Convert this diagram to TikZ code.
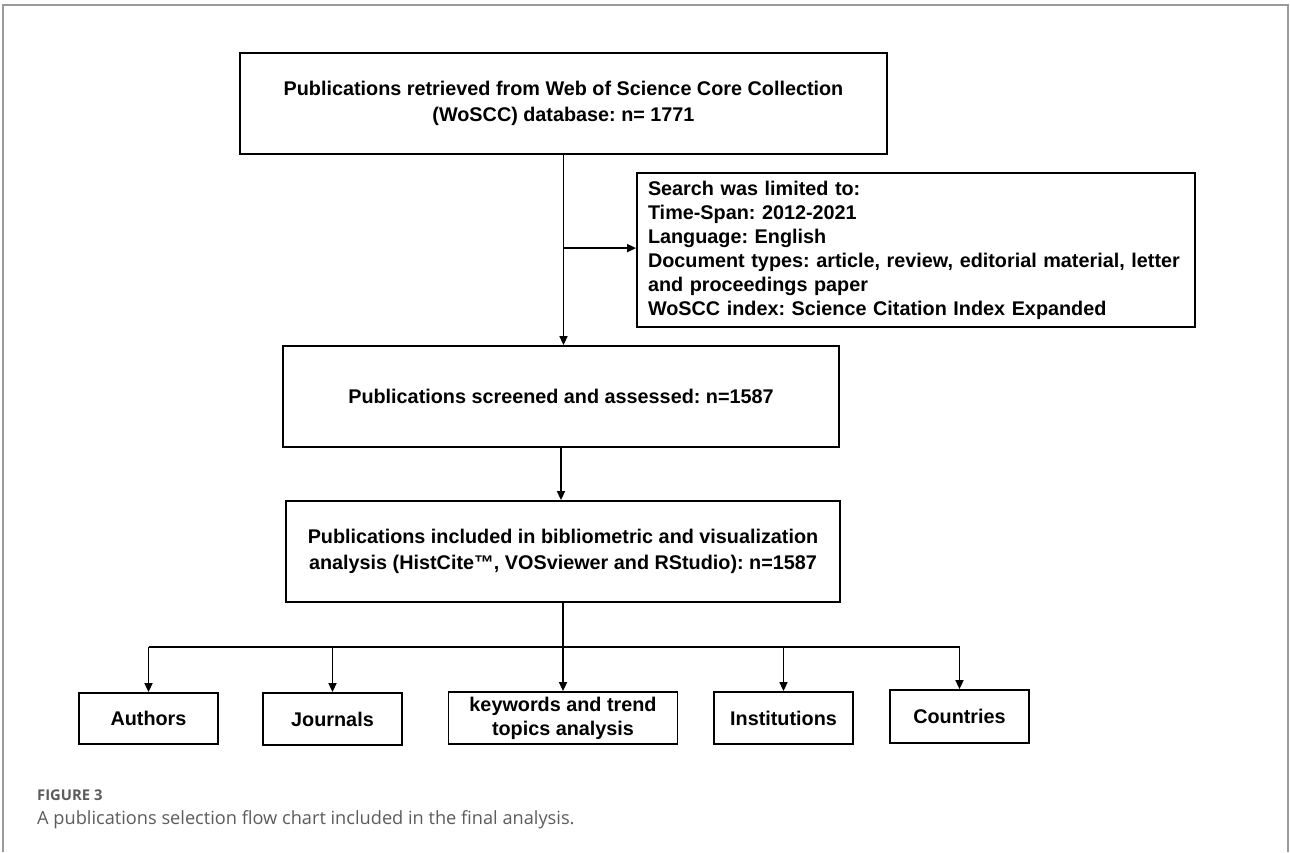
\documentclass[tikz,border=0pt]{standalone}
\usepackage{fontspec}
\setmainfont{Liberation Sans}
\newfontfamily\capfont{Open Sans}
\usetikzlibrary{arrows.meta,calc}
\definecolor{framegray}{HTML}{9A9A9A}
\definecolor{capgray}{HTML}{5C5C5C}
\frenchspacing
\begin{document}
\begin{tikzpicture}[x=1pt,y=-1pt,
  box/.style={draw=black, line width=1.8pt, rectangle, inner sep=0pt, align=center,
    font=\fontsize{19.8}{26}\selectfont\bfseries},
  smallbox/.style={box, font=\fontsize{19.8}{24}\selectfont\bfseries},
  arr/.style={line width=1.6pt, -{Triangle[length=9pt,width=8pt]}},
  ln/.style={line width=1.6pt}]
\useasboundingbox (0,0) rectangle (1290,852);
\fill[white] (0,0) rectangle (1290,852);
\draw[framegray, line width=1.4pt] (3,852) -- (3,5) -- (1288,5) -- (1288,852);

\node[box, minimum width=647pt, minimum height=101pt] (b1) at (563.5,103.5)
  {Publications retrieved from Web of Science Core Collection\\(WoSCC) database: n= 1771};
\node[smallbox, minimum width=558pt, minimum height=154pt, text width=536pt, align=left] (lim) at (916,250)
  {Search was limited to:\\Time-Span: 2012-2021\\Language: English\\Document types: article, review, editorial material, letter\\and proceedings paper\\WoSCC index: Science Citation Index Expanded};
\node[box, minimum width=556pt, minimum height=101pt] (b2) at (561,396.5)
  {Publications screened and assessed: n=1587};
\node[box, minimum width=554pt, minimum height=101pt] (b3) at (563,551.5)
  {Publications included in bibliometric and visualization\\analysis (HistCite™, VOSviewer and RStudio): n=1587};

\node[smallbox, minimum width=139pt, minimum height=51pt] (au) at (148.5,718.5) {Authors};
\node[smallbox, minimum width=139pt, minimum height=52pt] (jo) at (332.5,719) {Journals};
\node[smallbox, minimum width=229pt, minimum height=52pt] (kw) at (563,718) {keywords and trend\\topics analysis};
\node[smallbox, minimum width=139pt, minimum height=52pt] (in) at (783.5,718) {Institutions};
\node[smallbox, minimum width=139pt, minimum height=53pt] (co) at (959.5,716.5) {Countries};

% connectors
\draw[arr] (b1.south) -- (b1.south |- b2.north);
\coordinate (br) at ($(b1.south)!0.49!(b1.south |- b2.north)$);
\draw[arr] (br) -- (br -| lim.west);
\draw[arr] (b2.south) -- (b2.south |- b3.north);
\coordinate (bus) at ($(b3.south)+(0,44)$);
\draw[ln] (b3.south) -- (bus);
\draw[ln] (au.north |- bus) -- (co.north |- bus);
\draw[arr] (au.north |- bus) -- (au.north);
\draw[arr] (jo.north |- bus) -- (jo.north);
\draw[arr] (bus) -- (bus |- kw.north);
\draw[arr] (in.north |- bus) -- (in.north);
\draw[arr] (co.north |- bus) -- (co.north);

% caption
\node[anchor=west, inner sep=0pt, text=capgray, font=\capfont\fontsize{14.8}{17}\selectfont\bfseries] (fig) at (37,795) {FIGURE 3};
\node[anchor=west, inner sep=0pt, text=capgray, font=\capfont\fontsize{18.2}{21}\selectfont] (cap) at (37,820) {A publications selection flow chart included in the final analysis.};
\end{tikzpicture}
\end{document}
